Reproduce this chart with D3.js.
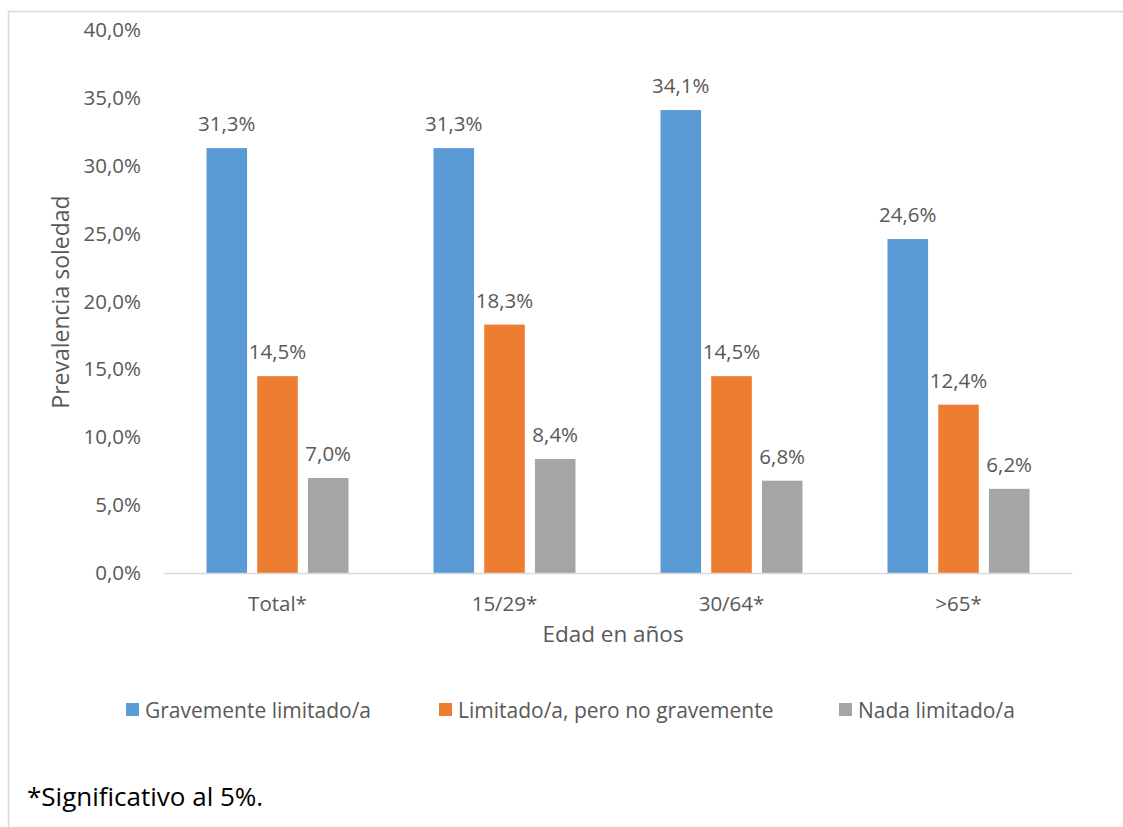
<!DOCTYPE html>
<html><head><meta charset="utf-8">
<script src="https://cdn.jsdelivr.net/npm/d3@7"></script>
<style>body{margin:0;background:#fff;} text{font-family:"Open Sans","DejaVu Sans",sans-serif;}</style>
</head><body>
<svg id="c" width="1123" height="827"></svg>
<script>
const categories = ["Total*", "15/29*", "30/64*", ">65*"];
const seriesNames = ["Gravemente limitado/a", "Limitado/a, pero no gravemente", "Nada limitado/a"];
const gravemente = [31.3, 31.3, 34.1, 24.6];
const limitado = [14.5, 18.3, 14.5, 12.4];
const nada = [7.0, 8.4, 6.8, 6.2];
const yTicks = [0, 5, 10, 15, 20, 25, 30, 35, 40];
const colors = ["#5B9BD5", "#ED7D31", "#A5A5A5"];
const series = [gravemente, limitado, nada];

(function(){
const svg = d3.select("#c");
const fmt = v => v.toFixed(1).replace(".", ",") + "%";
const textCol = "#595959";

svg.append("rect").attr("x", 8.5).attr("y", 11.5).attr("width", 1130).attr("height", 830)
  .attr("fill", "none").attr("stroke", "#d9d9d9").attr("stroke-width", 1.5);

const pLeft = 164, pRight = 1072, pTop = 30, pBottom = 573;
const x = d3.scaleBand().domain(categories).range([pLeft, pRight]);
const y = d3.scaleLinear().domain([0, 40]).range([pBottom, pTop]);
const xs = d3.scaleBand().domain([0,1,2]).range([0, 142]).paddingInner(0.2);

const yAxis = d3.axisLeft(y).tickValues(yTicks).tickFormat(d => d.toFixed(1).replace(".", ",") + "%").tickSize(0).tickPadding(0);
const ya = svg.append("g").attr("transform", `translate(141,0)`).call(yAxis);
ya.select(".domain").remove();
ya.selectAll("text").attr("fill", textCol).style("font-size", "20.5px").style("font-family", "'Open Sans', sans-serif");

categories.forEach((c, i) => {
  const gx = x(c) + (x.bandwidth() - 142) / 2;
  series.forEach((s, k) => {
    const v = s[i];
    svg.append("rect").attr("x", gx + xs(k)).attr("y", y(v)).attr("width", xs.bandwidth())
      .attr("height", y(0) - y(v)).attr("fill", colors[k]);
    svg.append("text").attr("x", gx + xs(k) + xs.bandwidth() / 2).attr("y", y(v) - 17)
      .attr("text-anchor", "middle").attr("fill", textCol).style("font-size", "20.5px").text(fmt(v));
  });
});

const xAxis = d3.axisBottom(x).tickSize(0).tickPadding(0);
const xa = svg.append("g").attr("transform", `translate(0,${pBottom})`).call(xAxis);
xa.select(".domain").attr("stroke", "#d9d9d9").attr("stroke-width", 1.5);
xa.selectAll("text").attr("fill", textCol).style("font-size", "20.5px").style("font-family", "'Open Sans', sans-serif").attr("y", 38).attr("dy", null);

svg.append("text").attr("x", 613).attr("y", 642).attr("text-anchor", "middle").attr("fill", textCol)
  .style("font-size", "22.5px").text("Edad en años");
svg.append("text").attr("transform", "translate(69,302) rotate(-90)").attr("text-anchor", "middle").attr("fill", textCol)
  .style("font-size", "23px").text("Prevalencia soledad");

const legX = [126, 439, 839];
seriesNames.forEach((n, k) => {
  svg.append("rect").attr("x", legX[k]).attr("y", 703).attr("width", 13).attr("height", 13).attr("fill", colors[k]);
  svg.append("text").attr("x", legX[k] + 19).attr("y", 718).attr("fill", textCol).style("font-size", "21px").text(n);
});

svg.append("text").attr("x", 27).attr("y", 806).attr("fill", "#000").style("font-size", "26px").text("*Significativo al 5%.");
})();
</script>
</body></html>
